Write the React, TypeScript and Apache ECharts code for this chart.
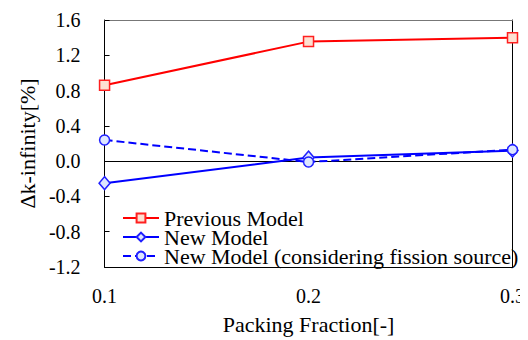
import React, { useEffect, useRef } from "react";
import * as echarts from "echarts";

const packingFraction = [0.1, 0.2, 0.3];
const previousModel = [0.86, 1.355, 1.4];
const newModel = [-0.25, 0.04, 0.12];
const newModelFission = [0.24, -0.01, 0.13];
const seriesNames = [
  "Previous Model",
  "New Model",
  "New Model (considering fission source)",
];

export default function App() {
  const ref = useRef<HTMLDivElement>(null);
  useEffect(() => {
    if (!ref.current) return;
    const chart = echarts.init(ref.current, undefined, { renderer: "svg" });
    const pair = (ys: number[]) => packingFraction.map((x, i) => [x, ys[i]]);
    chart.setOption({
      animation: false,
      grid: { left: 90, right: 13, top: 12, bottom: 61 },
      legend: {
        data: seriesNames,
        orient: "vertical",
        left: 109,
        top: 194,
        itemWidth: 36,
        itemHeight: 11,
        itemGap: -3,
        textStyle: { fontFamily: "Liberation Serif", fontSize: 22, color: "#000" },
      },
      xAxis: [
        {
          type: "value",
          min: 0.1,
          max: 0.3,
          interval: 0.1,
          position: "bottom",
          name: "Packing Fraction[-]",
          nameLocation: "middle",
          nameGap: 46,
          nameTextStyle: { fontFamily: "Liberation Serif", fontSize: 22, color: "#000" },
          axisLine: { show: true, onZero: false, lineStyle: { color: "#000", width: 1 } },
          axisTick: { show: false },
          splitLine: { show: false },
          axisLabel: {
            fontFamily: "Liberation Serif",
            fontSize: 20,
            color: "#000",
            margin: 19,
            formatter: (v: number) => v.toFixed(1),
          },
        },
        {
          type: "value",
          min: 0.1,
          max: 0.3,
          interval: 0.1,
          position: "top",
          axisLine: { show: true, onZero: false, lineStyle: { color: "#777", width: 1 } },
          axisTick: { show: false },
          axisLabel: { show: false },
          splitLine: { show: false },
        },
        {
          type: "value",
          min: 0.1,
          max: 0.3,
          interval: 0.1,
          position: "bottom",
          axisLine: { show: true, onZero: true, lineStyle: { color: "#000", width: 1 } },
          axisTick: { show: false },
          axisLabel: { show: false },
          splitLine: { show: false },
        },
      ],
      yAxis: [
        {
          type: "value",
          min: -1.2,
          max: 1.6,
          interval: 0.4,
          name: "Δk-infinity[%]",
          nameLocation: "middle",
          nameGap: 60,
          nameTextStyle: { fontFamily: "Liberation Serif", fontSize: 22, color: "#000" },
          axisLine: { show: true, onZero: false, lineStyle: { color: "#000", width: 1 } },
          axisTick: { show: true, inside: true, length: 5, lineStyle: { color: "#000" } },
          splitLine: { show: false },
          axisLabel: {
            fontFamily: "Liberation Serif",
            fontSize: 20,
            color: "#000",
            margin: 24,
            formatter: (v: number) => v.toFixed(1),
          },
        },
        {
          type: "value",
          min: -1.2,
          max: 1.6,
          interval: 0.4,
          position: "right",
          axisLine: { show: true, onZero: false, lineStyle: { color: "#000", width: 1 } },
          axisTick: { show: false },
          axisLabel: { show: false },
          splitLine: { show: false },
        },
      ],
      series: [
        {
          type: "line",
          name: seriesNames[0],
          data: pair(previousModel),
          z: 3,
          symbol: "rect",
          symbolSize: 10,
          lineStyle: { color: "#ff0000", width: 2 },
          itemStyle: { color: "#fde0d2", borderColor: "#ff2020", borderWidth: 1.5 },
        },
        {
          type: "line",
          name: seriesNames[1],
          data: pair(newModel),
          z: 3,
          symbol: "diamond",
          symbolSize: [11, 13],
          lineStyle: { color: "#0000ff", width: 2 },
          itemStyle: { color: "#dde6ff", borderColor: "#2020ff", borderWidth: 1.5 },
        },
        {
          type: "line",
          name: seriesNames[2],
          data: pair(newModelFission),
          z: 4,
          symbol: "circle",
          symbolSize: 10,
          lineStyle: { color: "#0000ff", width: 2, type: "dashed" },
          itemStyle: { color: "#dde6ff", borderColor: "#2020ff", borderWidth: 1.5 },
        },
      ],
    });
    return () => chart.dispose();
  }, []);
  return <div ref={ref} style={{ width: 520, height: 332 }} />;
}
